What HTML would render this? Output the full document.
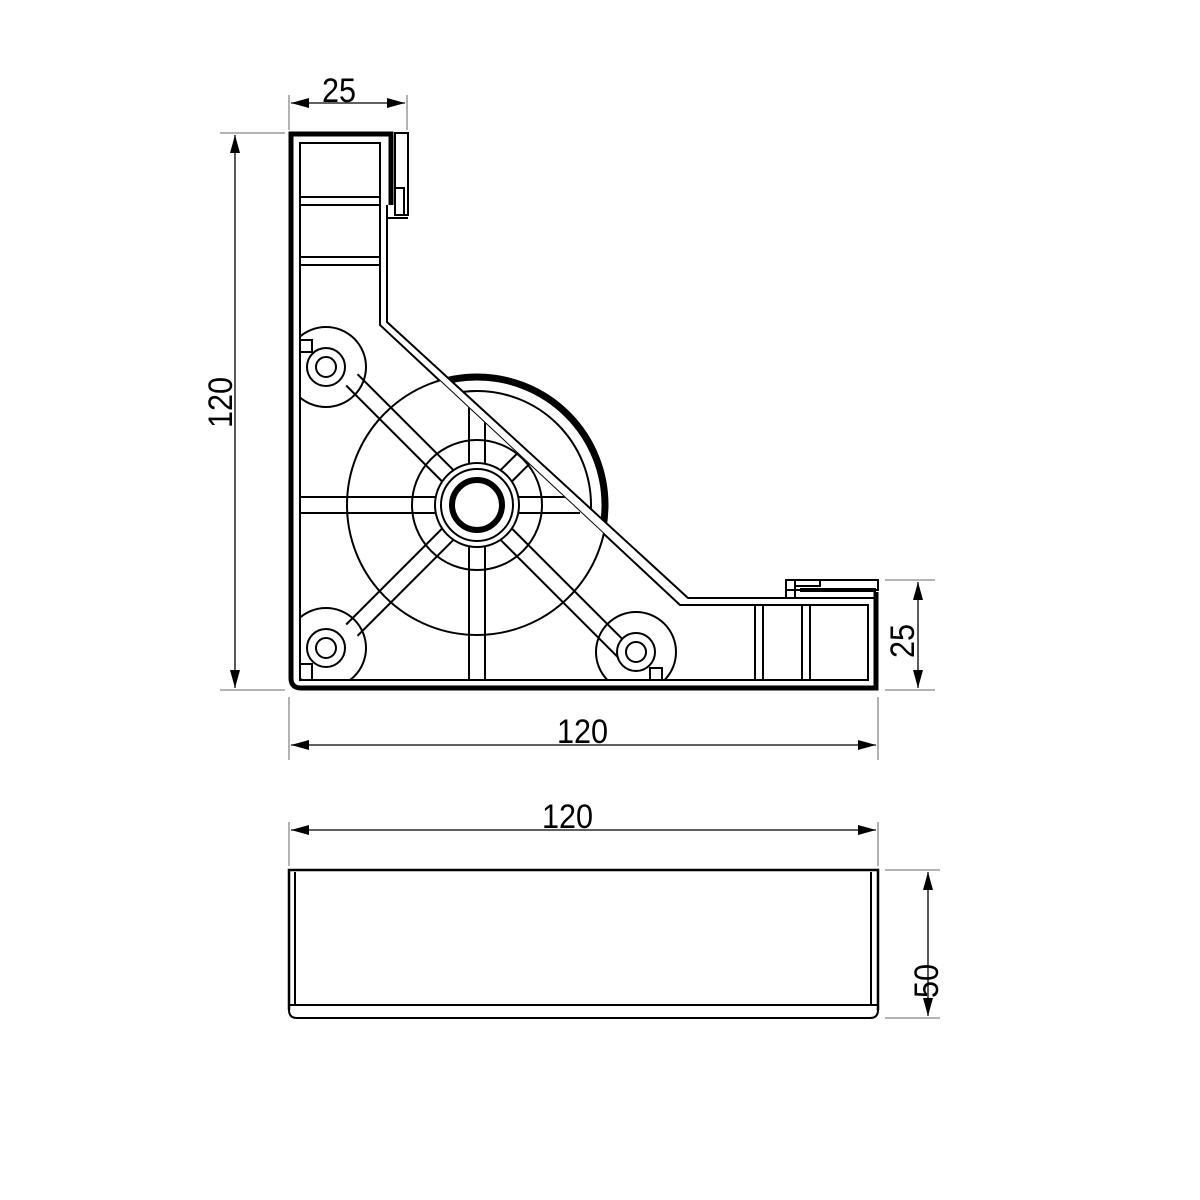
<!DOCTYPE html>
<html><head><meta charset="utf-8"><style>body{margin:0;background:#fff}svg{display:block}text{font-family:"Liberation Sans",sans-serif;font-size:34px;fill:#000}</style></head><body>
<svg width="1200" height="1200" viewBox="0 0 1200 1200" xmlns="http://www.w3.org/2000/svg">
<defs>
<marker id="a" viewBox="0 0 18 10" refX="18" refY="5" markerWidth="18" markerHeight="10" markerUnits="userSpaceOnUse" orient="auto-start-reverse"><path d="M0,0L18,5L0,10z" fill="#000"/></marker>
<clipPath id="outside"><polygon points="387,0 1200,0 1200,598 688,598 387,322"/></clipPath>
<clipPath id="inside"><polygon points="300,143 380,143 380,325 680,605 868,605 868,680 300,680"/></clipPath>
</defs>
<g stroke="#000" fill="none">
<g stroke-width="1.3">
<line x1="289" y1="95" x2="289" y2="130" stroke="#888"/><line x1="407" y1="95" x2="407" y2="130" stroke="#888"/>
<line x1="291" y1="103" x2="405" y2="103" marker-start="url(#a)" marker-end="url(#a)"/>
<line x1="220" y1="133" x2="285" y2="133" stroke="#888"/><line x1="220" y1="690" x2="285" y2="690" stroke="#888"/>
<line x1="235" y1="135" x2="235" y2="688" marker-start="url(#a)" marker-end="url(#a)"/>
<line x1="885" y1="580" x2="935" y2="580" stroke="#888"/><line x1="885" y1="690" x2="935" y2="690" stroke="#888"/>
<line x1="918" y1="582" x2="918" y2="688" marker-start="url(#a)" marker-end="url(#a)"/>
<line x1="289" y1="697" x2="289" y2="760" stroke="#888"/><line x1="878" y1="697" x2="878" y2="760" stroke="#888"/>
<line x1="291" y1="745" x2="876" y2="745" marker-start="url(#a)" marker-end="url(#a)"/>
<line x1="289" y1="822" x2="289" y2="866" stroke="#888"/><line x1="878" y1="822" x2="878" y2="866" stroke="#888"/>
<line x1="291" y1="830" x2="876" y2="830" marker-start="url(#a)" marker-end="url(#a)"/>
<line x1="885" y1="870" x2="940" y2="870" stroke="#888"/><line x1="885" y1="1018" x2="940" y2="1018" stroke="#888"/>
<line x1="928" y1="872" x2="928" y2="1016" marker-start="url(#a)" marker-end="url(#a)"/>
</g>
<path d="M391,205 L391,134 L291,134 L291,678 Q291,688 301,688 L876,688 L876,592" stroke-width="5"/>
<path d="M876,590 L800,590" stroke-width="4"/>
<g stroke-width="2">
<rect x="395" y="133" width="13" height="82"/>
<path d="M395,188 L404,188 L404,215"/>
<path d="M387,205 L387,218 L408,218"/>
<rect x="786" y="580" width="92" height="10"/>
<path d="M786,580 L786,598 M795,580 L795,598 M795,586 L820,586 L820,580"/>
</g>
<g stroke-width="2">
<path d="M300,680 L300,143 L380,143 L380,325 L680,605 L868,605 L868,680 Z"/>
<path d="M387,218 L387,322 L688,598 L876,598"/>
<line x1="300" y1="197" x2="380" y2="197"/><line x1="300" y1="205" x2="380" y2="205"/>
<line x1="300" y1="257" x2="380" y2="257"/><line x1="300" y1="265" x2="380" y2="265"/>
<line x1="755" y1="605" x2="755" y2="680"/><line x1="763" y1="605" x2="763" y2="680"/>
<line x1="802" y1="605" x2="802" y2="680"/><line x1="810" y1="605" x2="810" y2="680"/>
</g>
<g clip-path="url(#outside)">
<circle cx="477" cy="505" r="128" stroke-width="7"/>
<circle cx="477" cy="505" r="114" stroke-width="2"/>
</g>
<g clip-path="url(#inside)" stroke-width="2">
<circle cx="477" cy="505" r="130" fill="#fff"/>
<circle cx="477" cy="505" r="65"/>
<line x1="300" y1="497" x2="440" y2="497"/><line x1="300" y1="513" x2="440" y2="513"/>
<line x1="514" y1="497" x2="580" y2="497"/><line x1="514" y1="513" x2="580" y2="513"/>
<line x1="469" y1="400" x2="469" y2="470"/><line x1="485" y1="400" x2="485" y2="470"/>
<line x1="469" y1="540" x2="469" y2="680"/><line x1="485" y1="540" x2="485" y2="680"/>
<g transform="rotate(-45 477 505)"><line x1="300" y1="497" x2="440" y2="497"/><line x1="300" y1="513" x2="440" y2="513"/><line x1="514" y1="497" x2="580" y2="497"/><line x1="514" y1="513" x2="580" y2="513"/></g>
<g transform="rotate(45 477 505)"><line x1="300" y1="497" x2="440" y2="497"/><line x1="300" y1="513" x2="440" y2="513"/><line x1="514" y1="497" x2="690" y2="497"/><line x1="514" y1="513" x2="690" y2="513"/></g>
<circle cx="326" cy="367" r="40"/><circle cx="326" cy="648" r="40"/><circle cx="636" cy="652" r="40"/>
</g>
<g stroke-width="2" fill="#fff">
<circle cx="326" cy="367" r="19"/><circle cx="326" cy="367" r="10"/>
<circle cx="326" cy="648" r="19"/><circle cx="326" cy="648" r="10"/>
<circle cx="636" cy="652" r="19"/><circle cx="636" cy="652" r="10"/>
<circle cx="477" cy="505" r="42"/><circle cx="477" cy="505" r="36"/>
<circle cx="477" cy="505" r="25" stroke-width="6"/>
<rect x="300" y="340" width="12" height="12"/>
<rect x="300" y="664" width="12" height="16" fill="none"/>
<rect x="650" y="668" width="12" height="12"/>
</g>
<g stroke-width="2">
<path d="M289,1010 L289,870 L878,870 L878,1010" stroke-width="2.5"/>
<line x1="295" y1="872" x2="295" y2="1005"/><line x1="871" y1="872" x2="871" y2="1005"/>
<path d="M289,1005 L878,1005"/>
<path d="M289,1005 L289,1010 Q289,1018 297,1018 L870,1018 Q878,1018 878,1010 L878,1005"/>
</g>
</g>
<g>
<text transform="translate(322,102) scale(0.9,1)">25</text>
<text transform="translate(557,743) scale(0.9,1)">120</text>
<text transform="translate(542,828) scale(0.9,1)">120</text>
<text transform="translate(232,428) rotate(-90) scale(0.9,1)">120</text>
<text transform="translate(914,658) rotate(-90) scale(0.9,1)">25</text>
<text transform="translate(938,998) rotate(-90) scale(0.9,1)">50</text>
</g>
</svg>
</body></html>
